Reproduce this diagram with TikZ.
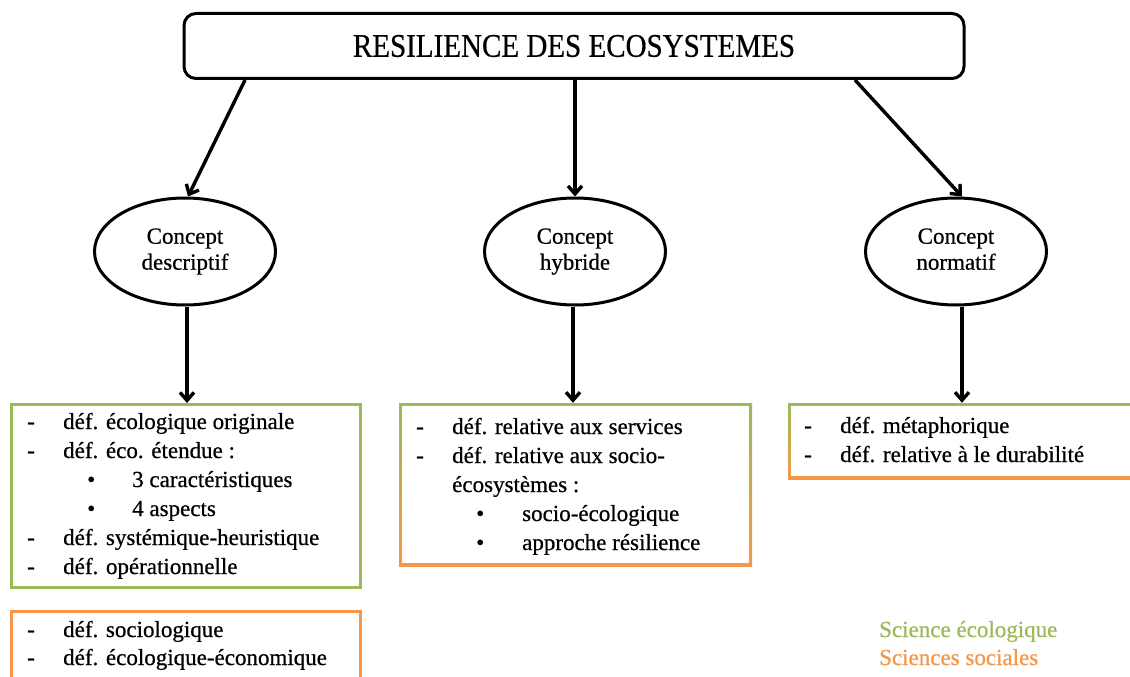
\documentclass[tikz,border=0pt]{standalone}
\usepackage{graphicx}
\usepackage{fontspec}
\setmainfont{Liberation Serif}[FakeBold=0.6]
\usetikzlibrary{shapes.geometric,arrows.meta,calc}
\definecolor{eco}{HTML}{9BBB59}
\definecolor{soc}{HTML}{F79646}
\begin{document}
\begin{tikzpicture}[x=1pt,y=-1pt,
  txt/.style={anchor=base west,inner sep=0pt,font=\fontsize{23}{27}\selectfont},
  titlebox/.style={draw=black,line width=3pt,rounded corners=12pt,minimum width=780pt,minimum height=65pt,inner sep=0pt},
  concept/.style={draw=black,ellipse,line width=3pt,minimum width=181pt,minimum height=107pt,inner sep=0pt,align=center,font=\fontsize{23}{26}\selectfont},
  ecobox/.style={draw=eco,line width=3pt,inner sep=0pt},
  socbox/.style={draw=soc,line width=3pt,inner sep=0pt},
  mixbox/.style={top color=eco,bottom color=soc,draw=none,inner sep=0pt},
  arr/.style={line width=3.4pt,-{Straight Barb[length=8pt,width=14pt]}},
  legend/.style={anchor=base west,inner sep=0pt,font=\fontsize{23}{27}\selectfont}]
\clip (0,0) rectangle (1130,677);
\fill[white] (0,0) rectangle (1130,677);

% title
\node[titlebox] (title) at (574,46) {\fontsize{33}{33}\selectfont\scalebox{0.88}[1]{RESILIENCE DES ECOSYSTEMES}};

% concepts
\node[concept] (c1) at (185,251.5) {Concept\strut\\descriptif\strut};
\node[concept] (c2) at (575,251.5) {Concept\strut\\hybride\strut};
\node[concept] (c3) at (956,251.5) {Concept\strut\\normatif\strut};

% boxes
\node[ecobox,minimum width=349pt,minimum height=183pt] (b1) at (186,496) {};
\node[socbox,minimum width=349pt,minimum height=88.5pt] (b4) at (186,655.75) {};
\node[mixbox,minimum width=353pt,minimum height=163pt] (b2) at (575.5,484.5) {};
\fill[white] ($(b2.north west)+(3,3)$) rectangle ($(b2.south east)+(-3,-3)$);
\node[mixbox,minimum width=352pt,minimum height=76pt] (b3) at (964,441) {};
\fill[white] ($(b3.north west)+(3,3)$) rectangle ($(b3.south east)+(-3,-3)$);

% connectors
\draw[arr] ([xshift=-329pt]title.south) -- ([xshift=3pt]c1.north);
\draw[arr] (title.south -| c2.north) -- (c2.north);
\draw[arr] ([xshift=281pt]title.south) -- ([xshift=6pt]c3.north);
\draw[arr] ([xshift=2pt]c1.south) -- ([xshift=2pt]c1.south |- b1.north);
\draw[arr] ([xshift=-2pt]c2.south) -- ([xshift=-2pt]c2.south |- b2.north);
\draw[arr] ([xshift=6pt]c3.south) -- ([xshift=6pt]c3.south |- b3.north);

% left green box
\node[txt] (l1) at (27,429) {\makebox[36pt][l]{-}déf. écologique originale};
\node[txt] (l2) at (27,458) {\makebox[36pt][l]{-}déf. éco. étendue :};
\node[txt] (l3) at (87,487) {\makebox[45pt][l]{•}3 caractéristiques};
\node[txt] (l4) at (87,516) {\makebox[45pt][l]{•}4 aspects};
\node[txt] (l5) at (27,545) {\makebox[36pt][l]{-}déf. systémique-heuristique};
\node[txt] (l6) at (27,574) {\makebox[36pt][l]{-}déf. opérationnelle};

% left orange box
\node[txt] (o1) at (27,637) {\makebox[36pt][l]{-}déf. sociologique};
\node[txt] (o2) at (27,665) {\makebox[36pt][l]{-}déf. écologique-économique};

% middle box
\node[txt] (m1) at (416,434) {\makebox[36pt][l]{-}déf. relative aux services};
\node[txt] (m2) at (416,463) {\makebox[36pt][l]{-}déf. relative aux socio-};
\node[txt] (m3) at (452,492) {écosystèmes :};
\node[txt] (m4) at (476,521) {\makebox[46pt][l]{•}socio-écologique};
\node[txt] (m5) at (476,550) {\makebox[46pt][l]{•}approche résilience};

% right box
\node[txt] (r1) at (804,433) {\makebox[36pt][l]{-}déf. métaphorique};
\node[txt] (r2) at (804,462) {\makebox[36pt][l]{-}déf. relative à le durabilité};

% legend
\node[legend,text=eco] (g1) at (879,637) {Science écologique};
\node[legend,text=soc] (g2) at (879,665) {Sciences sociales};
\end{tikzpicture}
\end{document}
